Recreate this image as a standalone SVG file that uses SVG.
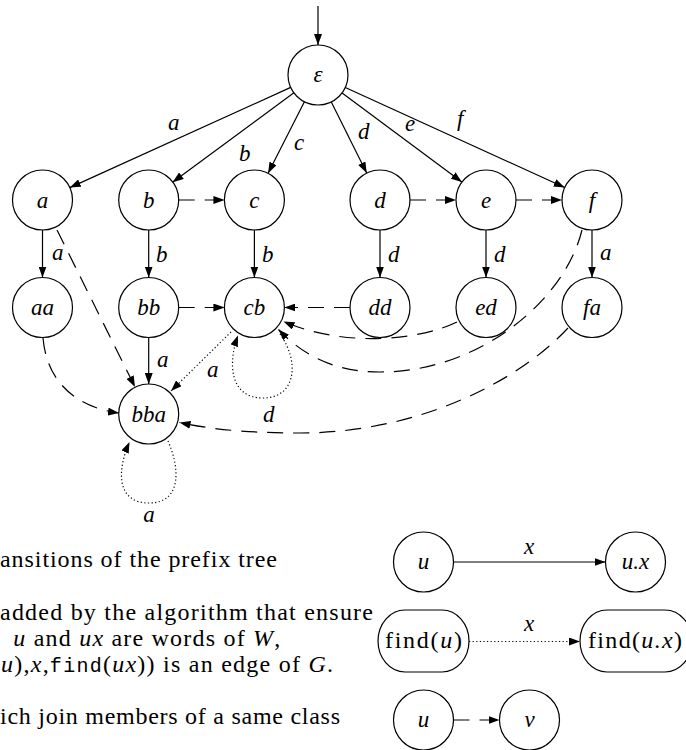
<svg xmlns="http://www.w3.org/2000/svg" width="686" height="750" viewBox="0 0 686 750">
<style>
.n{fill:#fff;stroke:#000;stroke-width:1.2}
.t{font-family:"Liberation Serif","Times New Roman",serif;font-style:italic;font-size:23px;fill:#000;text-anchor:middle}
.l{font-family:"Liberation Serif","Times New Roman",serif;font-style:italic;font-size:23px;fill:#000}
.r{font-family:"Liberation Serif","Times New Roman",serif;font-size:24px;fill:#000}
.i{font-style:italic}
.tt{font-family:"Liberation Mono","Courier New",monospace;font-size:20px}
.e{fill:none;stroke:#000;stroke-width:1.2}
.s{marker-end:url(#ah)}
.da{stroke-dasharray:16 10}
.dt{stroke-dasharray:1.2 2.4}
</style>
<defs>
<marker id="ah" markerWidth="11" markerHeight="8" refX="11" refY="4" orient="auto" markerUnits="userSpaceOnUse"><path d="M0,0 L11,4 L0,8 z" fill="#000"/></marker>
</defs>
<g id="connectors">
<path class="e s" d="M318,6 L318,45"/>
<path class="e s" d="M290.7,87.4 L69.8,187.6"/>
<path class="e s" d="M293.9,92.8 L172.6,182.2"/>
<path class="e s" d="M304.4,101.8 L268.1,173.2"/>
<path class="e s" d="M331.3,101.9 L366.7,173.1"/>
<path class="e s" d="M342.1,92.9 L461.9,182.1"/>
<path class="e s" d="M345.3,87.5 L564.7,187.5"/>
<path class="e s" d="M42.5,230 L42.5,277.5"/>
<path class="e s" d="M148.7,230 L148.7,277.5"/>
<path class="e s" d="M254.4,230 L254.4,277.5"/>
<path class="e s" d="M380,230 L380,277.5"/>
<path class="e s" d="M486,230 L486,277.5"/>
<path class="e s" d="M592,230 L592,277.5"/>
<path class="e s" d="M148.7,337.5 L148.7,384"/>
<path class="e s da" d="M178.7,200 L224.4,200"/>
<path class="e s da" d="M410,200 L456,200"/>
<path class="e s da" d="M516,200 L562,200"/>
<path class="e s da" d="M178.7,307.5 L224.4,307.5"/>
<path class="e s da" d="M350,307.5 L284.4,307.5"/>
<path class="e s da" d="M57,230 L135,387"/>
<path class="e s da" d="M43,338 C47,385 80,408 119,413"/>
<path class="e s da" d="M457,322 C420,340 345,348 283.5,321.5"/>
<path class="e s da" d="M582,230 C565,300 480,372 380,372 C330,372 300,352 278.5,329.5"/>
<path class="e s da" d="M568,328 C520,380 420,433 300,433 C240,433 205,428 179.5,422.5"/>
<path class="e s dt" d="M231,332 L171,391"/>
<path class="e s dt" d="M280,334 C300,362 296,398 263,398 C229,398 228,362 238,335.5"/>
<path class="e s dt" d="M168,441 C180,468 182,503 149,503 C116,503 117,470 129.5,442"/>
<path class="e s" d="M453.5,562 L605.5,562"/>
<path class="e s dt" d="M469,641.5 L580,641.5"/>
<path class="e s da" d="M453.5,720 L499.5,720"/>
</g>
<g id="edge-labels">
<text class="l" x="168" y="130">a</text>
<text class="l" x="239" y="161">b</text>
<text class="l" x="294" y="150">c</text>
<text class="l" x="358" y="139">d</text>
<text class="l" x="405" y="130.5">e</text>
<text class="l" x="457" y="126">f</text>
<text class="l" x="52" y="260">a</text>
<text class="l" x="156" y="262">b</text>
<text class="l" x="262" y="262">b</text>
<text class="l" x="388" y="262">d</text>
<text class="l" x="494" y="262">d</text>
<text class="l" x="600" y="260">a</text>
<text class="l" x="157" y="367">a</text>
<text class="l" x="207" y="377">a</text>
<text class="l" x="263" y="422">d</text>
<text class="t" x="149" y="522">a</text>
<text class="t" x="529" y="554">x</text>
<text class="t" x="529" y="631">x</text>
</g>
<g id="n-eps"><circle class="n" cx="318" cy="75" r="30"/><text class="t" x="318" y="82">ε</text></g>
<g id="n-a"><circle class="n" cx="42.5" cy="200" r="30"/><text class="t" x="42.5" y="207.5">a</text></g>
<g id="n-b"><circle class="n" cx="148.7" cy="200" r="30"/><text class="t" x="148.7" y="207.5">b</text></g>
<g id="n-c"><circle class="n" cx="254.4" cy="200" r="30"/><text class="t" x="254.4" y="207.5">c</text></g>
<g id="n-d"><circle class="n" cx="380" cy="200" r="30"/><text class="t" x="380" y="207.5">d</text></g>
<g id="n-e"><circle class="n" cx="486" cy="200" r="30"/><text class="t" x="486" y="207.5">e</text></g>
<g id="n-f"><circle class="n" cx="592" cy="200" r="30"/><text class="t" x="592" y="207.5">f</text></g>
<g id="n-aa"><circle class="n" cx="42.5" cy="307.5" r="30"/><text class="t" x="42.5" y="315">aa</text></g>
<g id="n-bb"><circle class="n" cx="148.7" cy="307.5" r="30"/><text class="t" x="148.7" y="315">bb</text></g>
<g id="n-cb"><circle class="n" cx="254.4" cy="307.5" r="30"/><text class="t" x="254.4" y="315">cb</text></g>
<g id="n-dd"><circle class="n" cx="380" cy="307.5" r="30"/><text class="t" x="380" y="315">dd</text></g>
<g id="n-ed"><circle class="n" cx="486" cy="307.5" r="30"/><text class="t" x="486" y="315">ed</text></g>
<g id="n-fa"><circle class="n" cx="592" cy="307.5" r="30"/><text class="t" x="592" y="315">fa</text></g>
<g id="n-bba"><circle class="n" cx="148.7" cy="414" r="30"/><text class="t" x="148.7" y="421.5">bba</text></g>
<g id="leg-u1"><circle class="n" cx="423.5" cy="562" r="30"/><text class="t" x="423.5" y="569">u</text></g>
<g id="leg-ux"><circle class="n" cx="635.5" cy="562" r="30"/><text class="t" x="635.5" y="569">u.x</text></g>
<g id="leg-findu"><rect class="n" x="378" y="610" width="91" height="62" rx="27" ry="31"/><text class="r" x="423.5" y="648" text-anchor="middle" textLength="77">find(<tspan class="i">u</tspan>)</text></g>
<g id="leg-findux"><rect class="n" x="580" y="610" width="112" height="62" rx="27" ry="31"/><text class="r" x="635" y="648" text-anchor="middle" textLength="94">find(<tspan class="i">u.x</tspan>)</text></g>
<g id="leg-u2"><circle class="n" cx="423.5" cy="720" r="30"/><text class="t" x="423.5" y="727">u</text></g>
<g id="leg-v"><circle class="n" cx="529.5" cy="720" r="30"/><text class="t" x="529.5" y="727">v</text></g>
<g id="legend-text">
<text class="r" x="0" y="567" textLength="277">ansitions of the prefix tree</text>
<text class="r" x="0" y="620" textLength="373">added by the algorithm that ensure</text>
<text class="r" x="13.3" y="646" textLength="267"><tspan class="i">u</tspan> and <tspan class="i">ux</tspan> are words of <tspan class="i">W</tspan>,</text>
<text class="r" x="1" y="672" textLength="332"><tspan class="i">u</tspan>),<tspan class="i">x</tspan>,<tspan class="tt">find</tspan>(<tspan class="i">ux</tspan>)) is an edge of <tspan class="i">G</tspan>.</text>
<text class="r" x="0" y="724" textLength="340">ich join members of a same class</text>
</g>
</svg>
